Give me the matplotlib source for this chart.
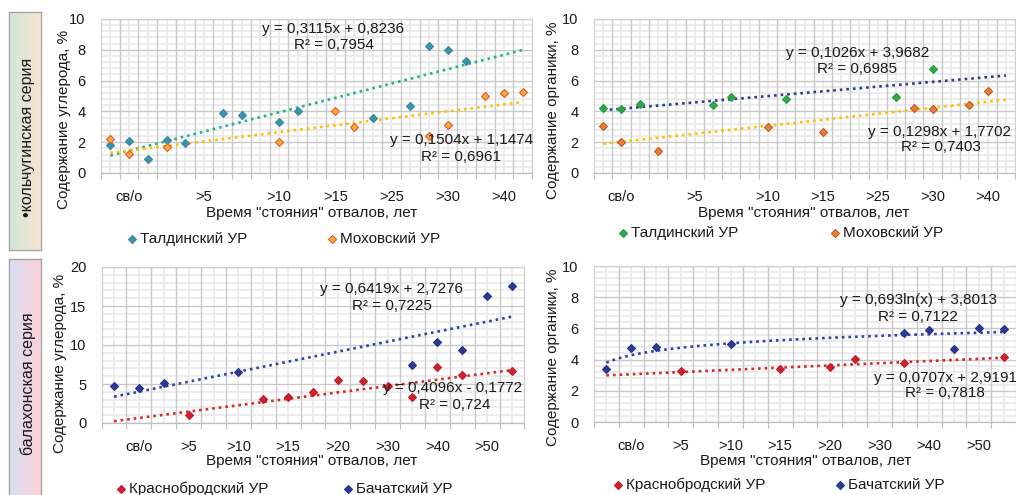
import numpy as np
import matplotlib
matplotlib.use("Agg")
import matplotlib.pyplot as plt
from matplotlib.lines import Line2D
from matplotlib.ticker import MultipleLocator

plt.rcParams['font.family'] = ['Liberation Sans', 'DejaVu Sans']

# ---------------- data ----------------
top_n = 23
bot_n = 17
top_x_labels = ["св/о", ">5", ">10", ">15", ">25", ">30", ">40"]
top_x_label_pos = [2, 6, 10, 13, 16, 19, 22]
bot_x_labels = ["св/о", ">5", ">10", ">15", ">20", ">30", ">40", ">50"]
bot_x_label_pos = [2, 4, 6, 8, 10, 12, 14, 16]

x_title = 'Время "стояния" отвалов, лет'
y_title_c = "Содержание углерода, %"
y_title_o = "Содержание органики, %"

# top-left: carbon, kolchugino series
tl_tald_x = [1, 2, 3, 4, 5, 7, 8, 10, 11, 15, 17, 18, 19, 20]
tl_tald_y = [1.80, 2.10, 0.89, 2.14, 1.97, 3.91, 3.77, 3.33, 4.03, 3.59, 4.37, 8.23, 7.97, 7.29]
tl_mox_x = [1, 2, 4, 10, 13, 14, 18, 19, 21, 22, 23]
tl_mox_y = [2.19, 1.23, 1.67, 1.99, 4.03, 2.97, 2.40, 3.10, 5.01, 5.17, 5.23]
tl_trend = {"tald": (0.3115, 0.8236), "mox": (0.1504, 1.1474)}

# top-right: organics, kolchugino series
tr_tald_x = [1, 2, 3, 7, 8, 11, 17, 19]
tr_tald_y = [4.24, 4.17, 4.46, 4.39, 4.96, 4.83, 4.96, 6.76]
tr_mox_x = [1, 2, 4, 10, 13, 18, 19, 21, 22]
tr_mox_y = [3.05, 2.02, 1.46, 3.00, 2.65, 4.20, 4.17, 4.39, 5.35]
tr_trend = {"tald": (0.1026, 3.9682), "mox": (0.1298, 1.7702)}

# bottom-left: carbon, balakhonka series
bl_kras_x = [4, 7, 8, 9, 10, 11, 12, 13, 14, 15, 17]
bl_kras_y = [1.0, 3.1, 3.35, 4.0, 5.5, 5.35, 4.7, 3.35, 7.2, 6.1, 6.7]
bl_bach_x = [1, 2, 3, 6, 13, 14, 15, 16, 17]
bl_bach_y = [4.7, 4.45, 5.15, 6.6, 7.5, 10.35, 9.35, 16.25, 17.55]
bl_trend = {"kras": (0.4096, -0.1772), "bach": (0.6419, 2.7276)}

# bottom-right: organics, balakhonka series
br_kras_x = [4, 8, 10, 11, 13, 17]
br_kras_y = [3.28, 3.38, 3.53, 4.05, 3.79, 4.15]
br_bach_x = [1, 2, 3, 6, 13, 14, 15, 16, 17]
br_bach_y = [3.38, 4.75, 4.82, 5.03, 5.72, 5.89, 4.65, 6.04, 5.97]
br_trend = {"kras": (0.0707, 2.9191), "bach_log": (0.693, 3.8013)}

r2_values = {"tl": ["0,7954", "0,6961"], "tr": ["0,6985", "0,7403"],
             "bl": ["0,7225", "0,724"], "br": ["0,7122", "0,7818"]}

series_names_top = ["Талдинский УР", "Моховский УР"]
series_names_bot = ["Краснобродский УР", "Бачатский УР"]
side_labels = ["•кольчугинская серия", "балахонская серия"]

# ---------------- figure ----------------
W, H = 1016, 495
fig = plt.figure(figsize=(W / 100, H / 100), dpi=100)
fig.patch.set_facecolor("white")


def fx(x):
    return x / W


def fy(y):
    return 1 - y / H


def make_ax(left, top, right, bottom):
    return fig.add_axes([fx(left), fy(bottom), (right - left) / W, (bottom - top) / H])


TXT = "#1a1a1a"
FS_TICK = 10.5
FS = 11
GRID_MAJ = "#C9C9C9"
GRID_MIN = "#E9E9E9"


def style(ax, n, ymax, ymajor, yminor, labels, label_pos):
    ax.set_xlim(0.5, n + 0.5)
    ax.set_ylim(0, ymax)
    ax.set_xticks(label_pos)
    ax.set_xticklabels(labels)
    ax.set_xticks(np.arange(0.5, n + 1, 1), minor=True)
    ax.yaxis.set_major_locator(MultipleLocator(ymajor))
    ax.yaxis.set_minor_locator(MultipleLocator(yminor))
    ax.grid(which='minor', axis='y', color=GRID_MIN, lw=1.2)
    ax.grid(which='major', axis='y', color=GRID_MAJ, lw=1.0)
    ax.grid(which='both', axis='x', visible=False)
    # category grid: boundaries (darker) and category centres (light)
    for xv in np.arange(1, n + 1):
        ax.axvline(xv, color=GRID_MIN, lw=1.2, zorder=0.5)
    for xv in np.arange(1.5, n + 0.5, 1):
        ax.axvline(xv, color=GRID_MAJ, lw=1.0, zorder=0.6)
    ax.set_axisbelow(True)
    ax.tick_params(axis='x', which='major', length=0, pad=12, labelsize=FS_TICK, labelcolor=TXT)
    ax.tick_params(axis='x', which='minor', length=4, color='#BFBFBF', width=0.8)
    ax.tick_params(axis='y', which='both', length=0, pad=11, labelsize=FS_TICK, labelcolor=TXT)
    for s in ["left", "top", "right"]:
        ax.spines[s].set_color("#D0D0D0")
        ax.spines[s].set_linewidth(0.9)
    ax.spines["bottom"].set_color("#BFBFBF")
    ax.spines["bottom"].set_linewidth(0.9)


def pts(ax, x, y, fc, ec):
    ax.plot(x, y, ls='none', marker='D', ms=4.3, mfc=fc, mec=ec, mew=0.8, zorder=4, clip_on=False)


def trend(ax, n, coef, color, log=False):
    xs = np.linspace(1, n, 300)
    a, b = coef
    ys = a * np.log(xs) + b if log else a * xs + b
    ax.plot(xs, ys, color=color, lw=1.9, ls=(0, (1, 1.5)), zorder=3, dash_capstyle='butt')


def note(cx, cy, txt, fs=FS):
    fig.text(fx(cx), fy(cy), txt, ha='center', va='center', fontsize=fs, color=TXT)


def legend_item(mx, my, fc, ec, label):
    fig.add_artist(Line2D([fx(mx)], [fy(my)], transform=fig.transFigure, ls='none', marker='D',
                          ms=4.3, mfc=fc, mec=ec, mew=0.8))
    fig.text(fx(mx + 8), fy(my), label, ha='left', va='center', fontsize=FS, color=TXT)


# colours
C_TEAL, C_TEAL_E = "#2E9E98", "#4A78B8"
C_ORYEL, C_ORYEL_E = "#F8AE2F", "#E05A3A"
C_GREEN, C_GREEN_E = "#2EA84A", "#2B9A45"
C_ORANGE, C_ORANGE_E = "#E8803A", "#C05A1E"
C_RED, C_RED_E = "#D02030", "#C01D2B"
C_BLUE, C_BLUE_E = "#2B3A92", "#25338A"
T_TEAL = "#1DB58C"
T_YEL = "#FFC000"
T_NAVY = "#2E3C8E"
T_BLUE = "#3241A8"
T_RED = "#D62A2A"

# ---- top-left ----
ax1 = make_ax(101, 19, 532, 173)
style(ax1, top_n, 10, 2, 0.4, top_x_labels, top_x_label_pos)
trend(ax1, top_n, tl_trend["tald"], T_TEAL)
trend(ax1, top_n, tl_trend["mox"], T_YEL)
pts(ax1, tl_tald_x, tl_tald_y, C_TEAL, C_TEAL_E)
pts(ax1, tl_mox_x, tl_mox_y, C_ORYEL, C_ORYEL_E)

# ---- top-right ----
ax2 = make_ax(594, 19, 1015, 173)
style(ax2, top_n, 10, 2, 0.4, top_x_labels, top_x_label_pos)
trend(ax2, top_n, tr_trend["tald"], T_NAVY)
trend(ax2, top_n, tr_trend["mox"], T_YEL)
pts(ax2, tr_tald_x, tr_tald_y, C_GREEN, C_GREEN_E)
pts(ax2, tr_mox_x, tr_mox_y, C_ORANGE, C_ORANGE_E)

# ---- bottom-left ----
ax3 = make_ax(101.6, 267, 524.4, 423)
style(ax3, bot_n, 20, 5, 1, bot_x_labels, bot_x_label_pos)
trend(ax3, bot_n, bl_trend["bach"], T_BLUE)
trend(ax3, bot_n, bl_trend["kras"], T_RED)
pts(ax3, bl_bach_x, bl_bach_y, C_BLUE, C_BLUE_E)
pts(ax3, bl_kras_x, bl_kras_y, C_RED, C_RED_E)

# ---- bottom-right ----
ax4 = make_ax(594, 266, 1016, 422)
style(ax4, bot_n, 10, 2, 0.4, bot_x_labels, bot_x_label_pos)
trend(ax4, bot_n, br_trend["bach_log"], T_BLUE, log=True)
trend(ax4, bot_n, br_trend["kras"], T_RED)
pts(ax4, br_bach_x, br_bach_y, C_BLUE, C_BLUE_E)
pts(ax4, br_kras_x, br_kras_y, C_RED, C_RED_E)


def eq_text(coef, log=False):
    a, b = coef
    sa = f"{a:.4f}".rstrip('0').replace('.', ',') if log else f"{a:.4f}".replace('.', ',')
    sign = "+" if b >= 0 else "-"
    sb = f"{abs(b):.4f}".replace('.', ',')
    if log:
        return f"y = {sa}ln(x) {sign} {sb}"
    return f"y = {sa}x {sign} {sb}"


# equations and R²
note(333, 29, eq_text(tl_trend["tald"]))
note(334, 45, "R² = " + r2_values["tl"][0])
note(462, 140, eq_text(tl_trend["mox"]))
note(461, 157, "R² = " + r2_values["tl"][1])

note(858, 53, eq_text(tr_trend["tald"]))
note(857, 69, "R² = " + r2_values["tr"][0])
note(940, 132, eq_text(tr_trend["mox"]))
note(941, 147, "R² = " + r2_values["tr"][1])

note(392, 289, eq_text(bl_trend["bach"]))
note(392, 306, "R² = " + r2_values["bl"][0])
note(453, 388, eq_text(bl_trend["kras"]))
note(455, 405, "R² = " + r2_values["bl"][1])

note(919, 300, eq_text(br_trend["bach_log"], log=True))
note(918, 317, "R² = " + r2_values["br"][0])
note(945, 378, eq_text(br_trend["kras"]))
note(945, 393, "R² = " + r2_values["br"][1])

# axis titles
for cx, cy in [(312, 213), (804, 213), (312, 461), (806, 461)]:
    fig.text(fx(cx), fy(cy), x_title, ha='center', va='center', fontsize=FS, color=TXT)
fig.text(fx(64), fy(119), y_title_c, rotation=90, ha='center', va='center', fontsize=FS, color=TXT)
fig.text(fx(553), fy(110), y_title_o, rotation=90, ha='center', va='center', fontsize=FS, color=TXT)
fig.text(fx(60), fy(363), y_title_c, rotation=90, ha='center', va='center', fontsize=FS, color=TXT)
fig.text(fx(553), fy(357), y_title_o, rotation=90, ha='center', va='center', fontsize=FS, color=TXT)

# legends
legend_item(132, 239, C_TEAL, C_TEAL_E, series_names_top[0])
legend_item(332, 239, C_ORYEL, C_ORYEL_E, series_names_top[1])
legend_item(623, 233, C_GREEN, C_GREEN_E, series_names_top[0])
legend_item(835, 233, C_ORANGE, C_ORANGE_E, series_names_top[1])
legend_item(121, 489, C_RED, C_RED_E, series_names_bot[0])
legend_item(348, 489, C_BLUE, C_BLUE_E, series_names_bot[1])
legend_item(618, 485, C_RED, C_RED_E, series_names_bot[0])
legend_item(840, 485, C_BLUE, C_BLUE_E, series_names_bot[1])


# side label boxes with gradients
def side_box(left, top, right, bottom, c1, c2, label, cy):
    bx = make_ax(left, top, right, bottom)
    c1 = np.array(matplotlib.colors.to_rgb(c1))
    c2 = np.array(matplotlib.colors.to_rgb(c2))
    t = np.linspace(0, 1, 64)[None, :, None]
    grad = c1 * (1 - t) + c2 * t
    bx.imshow(grad, aspect='auto', extent=(0, 1, 0, 1))
    bx.set_xticks([])
    bx.set_yticks([])
    for s in bx.spines.values():
        s.set_color("#A6A6A6")
        s.set_linewidth(1.0)
    fig.text(fx(28), fy(cy), label, rotation=90, ha='center', va='center', fontsize=11.5, color=TXT)


side_box(9, 12, 41, 250, "#CDE9D6", "#FCE3D2", side_labels[0], 137)
side_box(9, 259, 41, 497, "#D8E0F4", "#FBD2D8", side_labels[1], 384)

fig.savefig("out.png", dpi=100)
